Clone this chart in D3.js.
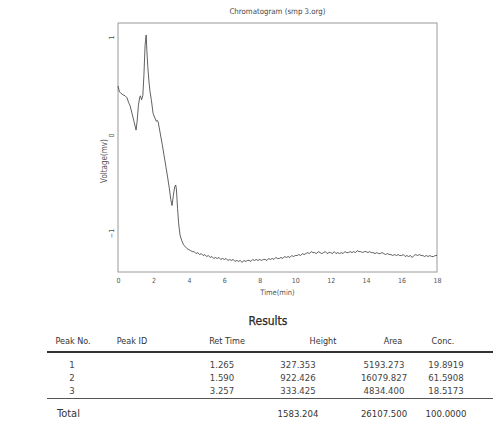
<!DOCTYPE html>
<html>
<head>
<meta charset="utf-8">
<script src="https://cdn.jsdelivr.net/npm/d3@7"></script>
<style>
  html, body { margin: 0; padding: 0; background: #fff; }
  svg { display: block; }
</style>
</head>
<body>
<svg id="chart" width="493" height="428"></svg>
<script>
// Detector trace: [time (min), voltage (mV)]
const trace = [
  [0.00, 0.50], [0.08, 0.44], [0.15, 0.43], [0.28, 0.41], [0.40, 0.40], [0.51, 0.38],
  [0.60, 0.33], [0.68, 0.30], [0.79, 0.22], [0.90, 0.14], [1.02, 0.05],
  [1.08, 0.14], [1.15, 0.30], [1.22, 0.38], [1.265, 0.40], [1.33, 0.36], [1.40, 0.40],
  [1.46, 0.60], [1.53, 0.92], [1.59, 1.02], [1.63, 0.86], [1.68, 0.70], [1.75, 0.54],
  [1.81, 0.44], [1.88, 0.36], [1.98, 0.22], [2.09, 0.17], [2.16, 0.14], [2.22, 0.15],
  [2.27, 0.13], [2.32, 0.08], [2.40, 0.00], [2.50, -0.10], [2.60, -0.21], [2.70, -0.32],
  [2.80, -0.43], [2.90, -0.55], [2.98, -0.66], [3.05, -0.72], [3.12, -0.62], [3.20, -0.53],
  [3.257, -0.51], [3.30, -0.56], [3.36, -0.75], [3.42, -0.90], [3.50, -1.02], [3.60, -1.08],
  [3.70, -1.12], [3.80, -1.14], [3.90, -1.16],
  [4.0, -1.17], [4.1, -1.18], [4.2, -1.19], [4.3, -1.19], [4.4, -1.21], [4.5, -1.20],
  [4.6, -1.22], [4.7, -1.21], [4.8, -1.23], [4.9, -1.22], [5.0, -1.24], [5.1, -1.23],
  [5.2, -1.25], [5.3, -1.24], [5.4, -1.26], [5.5, -1.25], [5.6, -1.26], [5.7, -1.25],
  [5.8, -1.27], [5.9, -1.26], [6.0, -1.27], [6.1, -1.26], [6.2, -1.28], [6.3, -1.27],
  [6.4, -1.28], [6.5, -1.27], [6.6, -1.29], [6.7, -1.28], [6.8, -1.29], [6.9, -1.28],
  [7.0, -1.30], [7.1, -1.28], [7.2, -1.29], [7.3, -1.28], [7.4, -1.28], [7.5, -1.29],
  [7.6, -1.27], [7.7, -1.28], [7.8, -1.27], [7.9, -1.28], [8.0, -1.27], [8.1, -1.28],
  [8.2, -1.27], [8.3, -1.27], [8.4, -1.28], [8.5, -1.26], [8.6, -1.27], [8.7, -1.26],
  [8.8, -1.27], [8.9, -1.25], [9.0, -1.26], [9.1, -1.26], [9.2, -1.25], [9.3, -1.26],
  [9.4, -1.24], [9.5, -1.25], [9.6, -1.24], [9.7, -1.25], [9.8, -1.23], [9.9, -1.24],
  [10.0, -1.23], [10.1, -1.23], [10.2, -1.22], [10.3, -1.23], [10.4, -1.21], [10.5, -1.22],
  [10.6, -1.21], [10.7, -1.20], [10.8, -1.21], [10.9, -1.19], [11.0, -1.20], [11.1, -1.20],
  [11.2, -1.21], [11.3, -1.19], [11.4, -1.20], [11.5, -1.21], [11.6, -1.20], [11.7, -1.19],
  [11.8, -1.21], [11.9, -1.20], [12.0, -1.20], [12.1, -1.21], [12.2, -1.19], [12.3, -1.21],
  [12.4, -1.20], [12.5, -1.21], [12.6, -1.20], [12.7, -1.21], [12.8, -1.19], [12.9, -1.20],
  [13.0, -1.20], [13.1, -1.19], [13.2, -1.20], [13.3, -1.19], [13.4, -1.20], [13.5, -1.18],
  [13.6, -1.19], [13.7, -1.19], [13.8, -1.20], [13.9, -1.19], [14.0, -1.19], [14.1, -1.20],
  [14.2, -1.19], [14.3, -1.20], [14.4, -1.20], [14.5, -1.21], [14.6, -1.20], [14.7, -1.21],
  [14.8, -1.21], [14.9, -1.20], [15.0, -1.21], [15.1, -1.22], [15.2, -1.21], [15.3, -1.22],
  [15.4, -1.22], [15.5, -1.23], [15.6, -1.22], [15.7, -1.23], [15.8, -1.22], [15.9, -1.23],
  [16.0, -1.23], [16.1, -1.22], [16.2, -1.24], [16.3, -1.23], [16.4, -1.24], [16.5, -1.23],
  [16.6, -1.25], [16.7, -1.23], [16.8, -1.22], [16.9, -1.23], [17.0, -1.22], [17.1, -1.23],
  [17.2, -1.23], [17.3, -1.24], [17.4, -1.23], [17.5, -1.24], [17.6, -1.23], [17.7, -1.24],
  [17.8, -1.24], [17.9, -1.23], [18.0, -1.23]
];

const xTicks = [0, 2, 4, 6, 8, 10, 12, 14, 16, 18];
const yTicks = [1, 0, -1];

// Integration results
const peakNo = ["1", "2", "3"];
const peakId = ["", "", ""];
const retTime = ["1.265", "1.590", "3.257"];
const heights = ["327.353", "922.426", "333.425"];
const areas = ["5193.273", "16079.827", "4834.400"];
const concs = ["19.8919", "61.5908", "18.5173"];
const totals = { label: "Total", height: "1583.204", area: "26107.500", conc: "100.0000" };
const headers = ["Peak No.", "Peak ID", "Ret Time", "Height", "Area", "Conc."];

const svg = d3.select("#chart");
const plot = { left: 118, right: 437, top: 23, bottom: 272 };

const x = d3.scaleLinear().domain([0, 18]).range([plot.left, plot.right]);
const y = d3.scaleLinear().domain([-1, 1]).range([233, 37]);

const axisColor = "#9a9a9a";
const textGray = "#555";
const font = "DejaVu Sans Condensed, DejaVu Sans, sans-serif";

// Title
svg.append("text")
  .attr("x", (plot.left + plot.right) / 2).attr("y", 14)
  .attr("text-anchor", "middle")
  .attr("font-family", font)
  .attr("font-size", 7.8).attr("fill", "#444")
  .text("Chromatogram (smp 3.org)");

// Frame
svg.append("rect")
  .attr("x", plot.left).attr("y", plot.top)
  .attr("width", plot.right - plot.left).attr("height", plot.bottom - plot.top)
  .attr("fill", "none").attr("stroke", axisColor).attr("stroke-width", 1);

// X axis
const xAxis = svg.append("g")
  .attr("transform", `translate(0,${plot.bottom})`)
  .call(d3.axisBottom(x).tickValues(xTicks).tickSize(0).tickPadding(6).tickFormat(d3.format("d")));
xAxis.select(".domain").remove();
xAxis.selectAll("text")
  .attr("font-family", font)
  .attr("font-size", 7).attr("fill", textGray);

// Y axis with rotated tick labels
const yAxis = svg.append("g")
  .attr("transform", `translate(${plot.left},0)`)
  .call(d3.axisLeft(y).tickValues(yTicks).tickSize(0).tickFormat(d3.format("d")));
yAxis.select(".domain").remove();
yAxis.selectAll(".tick text")
  .attr("x", null).attr("dy", null)
  .attr("text-anchor", "middle")
  .attr("transform", "translate(-4,0) rotate(-90)")
  .attr("font-family", font)
  .attr("font-size", 7).attr("fill", textGray);

// Axis titles
svg.append("text")
  .attr("x", (plot.left + plot.right) / 2).attr("y", 295)
  .attr("text-anchor", "middle")
  .attr("font-family", font)
  .attr("font-size", 7.5).attr("fill", textGray)
  .text("Time(min)");

svg.append("text")
  .attr("transform", "translate(107,161) rotate(-90)")
  .attr("text-anchor", "middle")
  .attr("font-family", font)
  .attr("font-size", 8).attr("fill", textGray)
  .text("Voltage(mv)");

// Trace
const line = d3.line().x(d => x(d[0])).y(d => y(d[1]));
svg.append("path")
  .datum(trace)
  .attr("d", line)
  .attr("fill", "none")
  .attr("stroke", "#444")
  .attr("stroke-width", 0.85)
  .attr("stroke-linejoin", "round");

// Results table
const colX = [72, 132, 222, 298, 384, 446];
const headX = [73, 132, 227, 323, 393, 443];

svg.append("text")
  .attr("x", 268).attr("y", 325)
  .attr("text-anchor", "middle")
  .attr("font-family", font)
  .attr("font-size", 12).attr("fill", "#2a2a2a")
  .attr("stroke", "#2a2a2a").attr("stroke-width", 0.25)
  .text("Results");

svg.selectAll("text.head")
  .data(headers).join("text")
  .attr("class", "head")
  .attr("x", (d, i) => headX[i]).attr("y", 344)
  .attr("text-anchor", "middle")
  .attr("font-family", font)
  .attr("font-size", 9).attr("fill", "#333")
  .text(d => d);

svg.append("line")
  .attr("x1", 47).attr("x2", 493).attr("y1", 352).attr("y2", 352)
  .attr("stroke", "#333").attr("stroke-width", 2);

const rows = peakNo.map((p, i) => [p, peakId[i], retTime[i], heights[i], areas[i], concs[i]]);
const rowY = [367.5, 380.5, 393.5];

const rowG = svg.selectAll("g.row")
  .data(rows).join("g")
  .attr("class", "row")
  .attr("transform", (d, i) => `translate(0,${rowY[i]})`);
rowG.selectAll("text")
  .data(d => d).join("text")
  .attr("x", (d, i) => colX[i])
  .attr("text-anchor", "middle")
  .attr("font-family", font)
  .attr("font-size", 9.5).attr("fill", "#444")
  .text(d => d);

svg.append("line")
  .attr("x1", 47).attr("x2", 493).attr("y1", 398.5).attr("y2", 398.5)
  .attr("stroke", "#555").attr("stroke-width", 1);

const totalRow = [totals.label, "", "", totals.height, totals.area, totals.conc];
svg.selectAll("text.total")
  .data(totalRow).join("text")
  .attr("class", "total")
  .attr("x", (d, i) => i === 0 ? 57 : colX[i])
  .attr("y", 417)
  .attr("text-anchor", (d, i) => i === 0 ? "start" : "middle")
  .attr("font-family", font)
  .attr("font-size", (d, i) => i === 0 ? 11 : 9.5)
  .attr("fill", "#333")
  .text(d => d);
</script>
</body>
</html>
